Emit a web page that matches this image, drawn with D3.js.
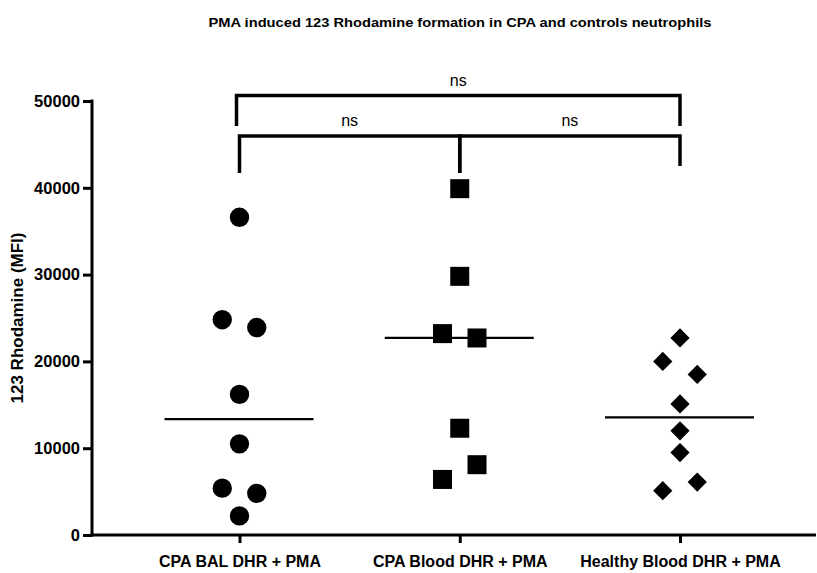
<!DOCTYPE html>
<html>
<head>
<meta charset="utf-8">
<script src="https://cdn.jsdelivr.net/npm/d3@7"></script>
<style>
  html, body { margin: 0; padding: 0; background: #fff; }
  svg { display: block; }
  text { font-family: "Liberation Sans", Arial, sans-serif; fill: #000; }
</style>
</head>
<body>
<svg id="chart" width="817" height="573"></svg>
<script>
// ---- Data ----
const categories = ["CPA BAL DHR + PMA", "CPA Blood DHR + PMA", "Healthy Blood DHR + PMA"];
const balValues = [36600, 24800, 23900, 16200, 10500, 5400, 4800, 2200];
const cpaBloodValues = [39900, 29800, 23200, 22700, 12300, 6400, 8100];
const healthyValues = [22700, 20000, 18500, 15100, 12000, 9500, 5100, 6100];
const symbols = ["circle", "square", "diamond"];
const yTicks = [0, 10000, 20000, 30000, 40000, 50000];
const comparisons = [[0, 2, "ns"], [0, 1, "ns"], [1, 2, "ns"]];
const titleText = "PMA induced 123 Rhodamine formation in CPA and controls neutrophils";
const yLabel = "123 Rhodamine (MFI)";

const groups = [balValues, cpaBloodValues, healthyValues];

// ---- Layout ----
const svg = d3.select("#chart");
const axisX = 92, axisY = 535, axisRight = 816;
const x = d3.scalePoint().domain(categories).range([239.5, 680]);
const y = d3.scaleLinear().domain([0, 50000]).range([535, 101]);

// Title
svg.append("text")
  .attr("x", 460).attr("y", 27)
  .attr("text-anchor", "middle")
  .attr("font-size", 12.5).attr("font-weight", "bold")
  .attr("textLength", 503).attr("lengthAdjust", "spacingAndGlyphs")
  .text(titleText);

// Y axis
const yAxis = d3.axisLeft(y).tickValues(yTicks).tickSize(9).tickPadding(3).tickFormat(d3.format("d"));
const gy = svg.append("g").attr("transform", `translate(${axisX},0)`).call(yAxis);
gy.select(".domain").remove();
gy.selectAll(".tick line").attr("stroke", "#000").attr("stroke-width", 3);
gy.selectAll(".tick text").attr("font-size", 16.5).attr("font-weight", "bold")
  .attr("font-family", "Liberation Sans, Arial, sans-serif").attr("fill", "#000");
svg.append("line").attr("x1", axisX).attr("x2", axisX).attr("y1", y(50000) - 1.5).attr("y2", axisY + 1.5)
  .attr("stroke", "#000").attr("stroke-width", 3);

// X axis
const xAxis = d3.axisBottom(x).tickSize(8).tickPadding(13);
const gx = svg.append("g").attr("transform", `translate(0,${axisY})`).call(xAxis);
gx.select(".domain").remove();
gx.selectAll(".tick line").attr("stroke", "#000").attr("stroke-width", 3);
gx.selectAll(".tick text").attr("font-size", 16).attr("font-weight", "bold")
  .attr("font-family", "Liberation Sans, Arial, sans-serif").attr("fill", "#000");
svg.append("line").attr("x1", axisX - 1.5).attr("x2", axisRight).attr("y1", axisY).attr("y2", axisY)
  .attr("stroke", "#000").attr("stroke-width", 3);

// Y label
svg.append("text")
  .attr("transform", `translate(23,${318}) rotate(-90)`)
  .attr("text-anchor", "middle")
  .attr("font-size", 17).attr("font-weight", "bold")
  .text(yLabel);

// ---- Points with symmetric spreading of clustered values ----
const symSize = 19;   // px
const spread = 34.5;  // px between neighbours in a cluster
const symTypes = { circle: d3.symbolCircle, square: d3.symbolSquare, diamond: d3.symbolSquare };
const symAreas = { circle: Math.PI * 9.7 * 9.7, square: 19 * 19, diamond: 13.6 * 13.6 };
const symRotate = { circle: 0, square: 0, diamond: 45 };

groups.forEach((vals, gi) => {
  const cx = x(categories[gi]);
  const pts = vals.map((v, i) => ({ v, i, py: y(v) }));
  const sorted = pts.slice().sort((a, b) => b.v - a.v);
  const clusters = [];
  sorted.forEach(p => {
    const last = clusters[clusters.length - 1];
    if (last && Math.abs(last[last.length - 1].py - p.py) < symSize) last.push(p);
    else clusters.push([p]);
  });
  clusters.forEach(c => {
    c.sort((a, b) => a.i - b.i);
    c.forEach((p, k) => { p.px = cx + (k - (c.length - 1) / 2) * spread; });
  });
  const sym = symbols[gi];
  const gen = d3.symbol().type(symTypes[sym]).size(symAreas[sym]);
  svg.append("g").selectAll("path").data(pts).join("path")
    .attr("d", gen)
    .attr("transform", d => `translate(${d.px},${d.py}) rotate(${symRotate[sym]})`)
    .attr("fill", "#000");

  // median line
  const med = d3.median(vals);
  svg.append("line")
    .attr("x1", cx - 75).attr("x2", cx + 74)
    .attr("y1", y(med)).attr("y2", y(med))
    .attr("stroke", "#000").attr("stroke-width", 2.2);
});

// ---- Significance brackets ----
const bracketLevels = { "0-2": { top: 95.5, drop: [126, 126], text: 81 },
                        "0-1": { top: 136, drop: [173, 173], text: 121 },
                        "1-2": { top: 136, drop: [173, 166], text: 121 } };
comparisons.forEach(([a, b, label]) => {
  const L = bracketLevels[a + "-" + b];
  const xa = x(categories[a]) - (a === 0 && b === 2 ? 3 : 0);
  const xb = x(categories[b]);
  svg.append("path")
    .attr("d", `M${xa},${L.drop[0]} V${L.top} H${xb} V${L.drop[1]}`)
    .attr("fill", "none").attr("stroke", "#000").attr("stroke-width", 3.5)
    .attr("stroke-linejoin", "miter");
  svg.append("text")
    .attr("x", (xa + xb) / 2).attr("y", L.text + 5)
    .attr("text-anchor", "middle")
    .attr("font-size", 16)
    .text(label);
});
</script>
</body>
</html>
